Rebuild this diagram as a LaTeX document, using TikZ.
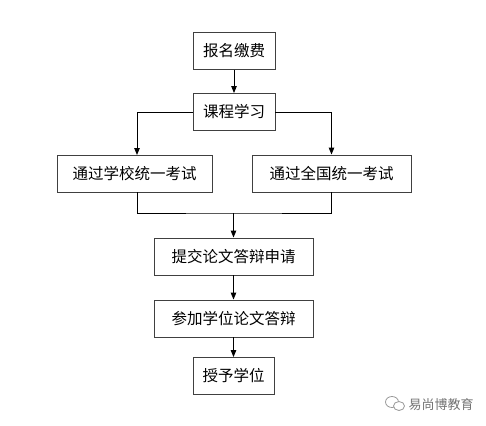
\documentclass[tikz,border=0pt]{standalone}
\usepackage{fontspec}
\setmainfont{Noto Sans CJK SC}
\usepackage{tikz}
\usetikzlibrary{arrows.meta,shapes}

\begin{document}
\begin{tikzpicture}[
    stepbox/.style={draw=black!75,line width=0.9bp,inner sep=0pt,minimum height=37bp,font=\fontsize{15.5bp}{18bp}\selectfont},
    flow/.style={-{Triangle[length=7bp,width=5.5bp]},line width=0.9bp}]
    \useasboundingbox (0bp,0bp) rectangle (486bp,-426bp);
    \node (S1) at (234bp,-51bp)[stepbox,minimum width=82bp] {报名缴费};
    \node (S2) at (234bp,-112bp)[stepbox,minimum width=82bp] {课程学习};
    \node (S3a) at (134.5bp,-173.5bp)[stepbox,minimum width=155bp] {通过学校统一考试};
    \node (S3b) at (331.5bp,-173.5bp)[stepbox,minimum width=159bp] {通过全国统一考试};
    \node (S4) at (233.5bp,-256.5bp)[stepbox,minimum width=159bp] {提交论文答辩申请};
    \node (S5) at (233.5bp,-318.5bp)[stepbox,minimum width=159bp] {参加学位论文答辩};
    \node (S6) at (233.5bp,-376bp)[stepbox,minimum width=81bp] {授予学位};
    \coordinate (Lin) at (137bp,-155bp);
    \coordinate (Lout) at (137bp,-192bp);
    \coordinate (M) at (233.5bp,-213bp);
    \draw [flow] (S1) to (S2);
    \draw [flow] (S2.west) -| (Lin);
    \draw [flow] (S2.east) -| (S3b.north);
    \draw [line width=0.9bp] (Lout) |- (M) -| (S3b.south);
    \draw [flow] (M) to (S4.north);
    \draw [flow] (S4) to (S5);
    \draw [flow] (S5) to (S6);
    % watermark
    \draw [black!40,line width=0.8bp] (392bp,-402bp) ellipse (6.5bp and 5.5bp);
    \draw [black!40,line width=0.8bp,fill=white] (399bp,-406bp) ellipse (5.5bp and 4.5bp);
    \node (W) at (441bp,-405bp)[text=black!55,font=\fontsize{13bp}{15bp}\selectfont] {易尚博教育};
\end{tikzpicture}
\end{document}
